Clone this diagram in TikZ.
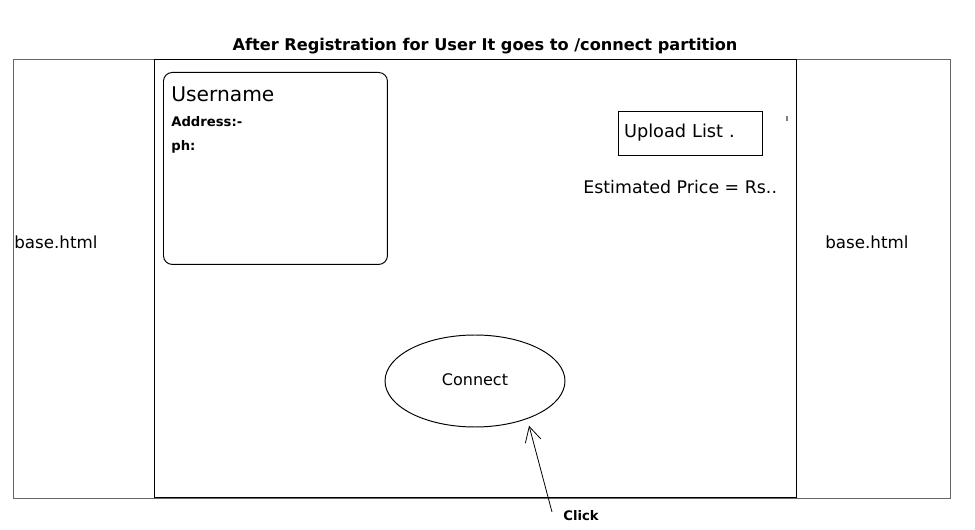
\documentclass[tikz,border=0pt]{standalone}
\usepackage{fontspec}
\setmainfont{DejaVu Sans}
\usepackage{tikz}
\usetikzlibrary{shapes.geometric, arrows.meta}
\usetikzlibrary{positioning}
\newcommand{\frameColorOuter}{black!60}
\newcommand{\frameColorInner}{black}
\newcommand{\inkColor}{black}
\tikzset{
    frame/.style = {draw=#1, line width=0.55pt},
    frame/.default = \frameColorInner,
    hand/.style = {inner sep=0pt, text=\inkColor, font=\fontsize{#1}{#1}\selectfont},
    hand/.default = 9.5,
    handB/.style = {hand, font=\fontsize{#1}{#1}\selectfont\bfseries},
    handB/.default = 7.5,
    clickArrow/.style = {draw=\inkColor, line width=0.45pt, -{Straight Barb[length=0.3cm, width=0.32cm]}}
}

\begin{document}
\begin{tikzpicture}[x=0.02cm, y=-0.02cm]
            \useasboundingbox (0,0) rectangle (975,530);

            \node[handB=9.2] (title) at (485,46) {After Registration for User It goes to /connect partition};

            \draw[frame=\frameColorOuter] (13,59) rectangle (950,498);
            \draw[frame] (154,59) rectangle (796,497);
            \draw[gray, line width=0.6pt] (787,116) -- (787,121);

            \node[hand, anchor=west] (baseL) at (14,242) {base.html};
            \node[hand, anchor=west] (baseR) at (825,242) {base.html};

            \node[frame, rounded corners=5pt, anchor=north west, minimum width=4.48cm, minimum height=3.84cm] (userbox) at (163,72) {};
            \node[hand=11.5, anchor=west] (uname) at (171,94) {Username};
            \node[handB, anchor=west] (addr) at (171,122) {Address:-};
            \node[handB, anchor=west] (phone) at (171,147) {ph:};

            \node[frame, minimum width=2.88cm, minimum height=0.88cm, text width=2.64cm, inner xsep=0.12cm, align=left, hand=10.1] (upload) at (690,133) {Upload List .};
            \node[hand=9.9, anchor=west] (price) at (583,187) {Estimated Price = Rs..};

            \node[frame, ellipse, minimum width=3.6cm, minimum height=1.84cm, hand=9.1, text depth=1.2pt] (conn) at (475,381) {Connect};

            \node[handB, anchor=west] (click) at (563,516) {Click};
            \coordinate (clickfoot) at (552,512);
            \draw[clickArrow, shorten >=4pt] (clickfoot) -- (conn.-36);

        \end{tikzpicture}
\end{document}
